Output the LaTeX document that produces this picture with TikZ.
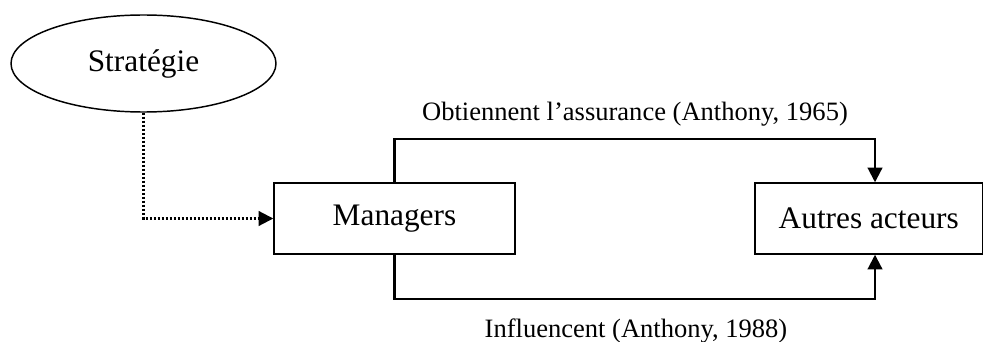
\documentclass[tikz,border=0pt]{standalone}
\usepackage{fontspec}
\setmainfont{Liberation Serif}
\usepackage{tikz}
\usetikzlibrary{shapes.geometric, arrows.meta, calc}

\begin{document}
\begin{tikzpicture}[x=0.75pt,y=-0.75pt]
      \tikzset{box/.style={draw,
          line width=1.1pt,
          rectangle,
          minimum height=53.25pt,
          font=\fontsize{23.5}{28}\selectfont},
        conn/.style={line width=1.6pt,
          -{Triangle[length=11pt,width=11pt]}},
        lbl/.style={font=\fontsize{19.9}{24}\selectfont,
          inner sep=0pt}
      }
      \useasboundingbox (0,0) rectangle (984,342);
      \node [box,ellipse,minimum width=198.75pt,minimum height=72.75pt] (strat) at (143.5,63.5) {Stratégie};
      \node [box,minimum width=180.75pt] (mgr) at (394.5,218.5) {Managers};
      \node [box,minimum width=170.6pt] (aut) at (868.75,218.5) {Autres acteurs};

      \coordinate (tr) at (875,139);
      \coordinate (br) at (875,299);
      \draw [conn] (mgr.north) |- (tr) -- (tr |- aut.north);
      \draw [conn] (mgr.south) |- (br) -- (br |- aut.south);
      \draw [conn,dash pattern=on 1.6pt off 1.4pt] (strat.south) |- (mgr.west);

      \node [lbl,anchor=base] (obt) at (635,121) {Obtiennent l’assurance (Anthony, 1965)};
      \node [lbl,anchor=base] (inf) at (636,337) {Influencent (Anthony, 1988)};
    \end{tikzpicture}
\end{document}
